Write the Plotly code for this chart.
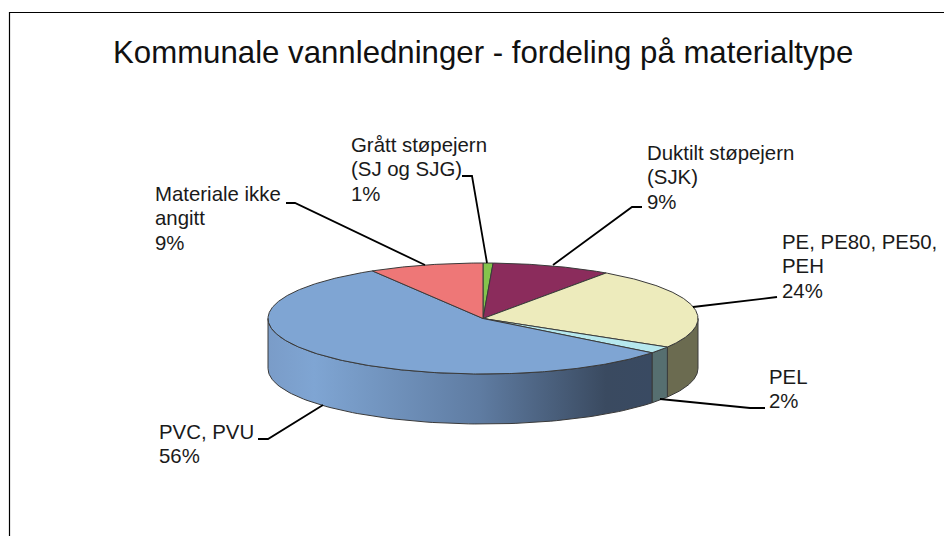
import numpy as np
import plotly.graph_objects as go

# --- data (clockwise from the top of the pie) ---
categories = ["Grått støpejern (SJ og SJG)", "Duktilt støpejern (SJK)", "PE, PE80, PE50, PEH",
              "PEL", "PVC, PVU", "Materiale ikke angitt"]
values = [0.75, 8.95, 23.9, 2.0, 55.8, 8.6]
percent_labels = ["1%", "9%", "24%", "2%", "56%", "9%"]
label_lines = [["Grått støpejern", "(SJ og SJG)"], ["Duktilt støpejern", "(SJK)"], ["PE, PE80, PE50,", "PEH"],
               ["PEL"], ["PVC, PVU"], ["Materiale ikke", "angitt"]]
title = "Kommunale vannledninger - fordeling på materialtype"

# --- style ---
top_colors = ["#84C44C", "#8B2C5C", "#EDEBBC", "#B6E8EE", "#7FA5D3", "#EE7777"]
side_colors = ["#5A7A38", "#5F1E40", "#6B6B50", "#566F70", None, "#A05050"]
pvc_side_scale = [[0, "#7A9CC8"], [0.12, "#7FA5D3"], [0.55, "#5F7CA2"], [0.88, "#3A4A60"], [1, "#394A62"]]
outline = "#3A3A3A"

# --- layout geometry ---
W, H = 944, 536
cx, cy, rx, ry, depth = 483, 318.5, 215, 55.5, 50
label_x = [349, 645, 780, 767, 157, 153]
label_y = [145, 153, 242, 377, 432, 194]
line_gap = 24.3
leaders = [
    ([462, 472, 487], [176, 176, 263]),
    ([642, 632, 553], [207, 207, 265]),
    ([777, 693], [297, 307]),
    ([765, 750, 660], [408, 408, 399]),
    ([258, 268, 323], [439, 439, 405]),
    ([286, 295, 425], [203, 203, 265]),
]


def ex(t):
    return cx + rx * np.sin(np.radians(t))


def ey(t, dz=0):
    return cy - ry * np.cos(np.radians(t)) + dz


edges = np.concatenate([[0], np.cumsum(values)]) / np.sum(values) * 360
fig = go.Figure()

# side walls (only the front half is visible)
for i in range(len(values)):
    a, b = max(edges[i], 90), min(edges[i + 1], 270)
    if a >= b:
        continue
    t = np.linspace(a, b, 90)
    xs = np.concatenate([ex(t), ex(t[::-1]), [ex(t[0])]])
    ys = np.concatenate([ey(t), ey(t[::-1], depth), [ey(t[0])]])
    kw = dict(fillcolor=side_colors[i])
    if side_colors[i] is None:
        kw = dict(fillgradient=dict(type="horizontal", colorscale=pvc_side_scale))
    fig.add_trace(go.Scatter(x=xs, y=ys, mode="lines", fill="toself",
                             line=dict(color=outline, width=1), hoverinfo="skip", **kw))

# top face
for i in range(len(values)):
    t = np.linspace(edges[i], edges[i + 1], max(int(edges[i + 1] - edges[i]) * 2, 6))
    xs = np.concatenate([[cx], ex(t), [cx]])
    ys = np.concatenate([[cy], ey(t), [cy]])
    fig.add_trace(go.Scatter(x=xs, y=ys, mode="lines", fill="toself", fillcolor=top_colors[i],
                             line=dict(color=outline, width=1), name=categories[i],
                             hoverinfo="name"))

# leader lines
for lx, ly in leaders:
    fig.add_trace(go.Scatter(x=lx, y=ly, mode="lines", line=dict(color="#000000", width=1.8), hoverinfo="skip"))

# frame
fig.add_trace(go.Scatter(x=[9.5, 9.5, W], y=[H, 12.5, 12.5], mode="lines",
                         line=dict(color="#000000", width=1.2), hoverinfo="skip"))

# labels
ann = []
for i, lines in enumerate(label_lines):
    for j, s in enumerate(lines + [percent_labels[i]]):
        ann.append(dict(x=label_x[i], y=label_y[i] + j * line_gap, text=s, showarrow=False,
                        xanchor="left", yanchor="middle",
                        font=dict(family="Liberation Sans", size=20.4, color="#1a1a1a")))
ann.append(dict(x=482.5, y=52, text=title, showarrow=False, xanchor="center", yanchor="middle",
                font=dict(family="Liberation Sans", size=31.2, color="#111111")))

fig.update_layout(
    width=W, height=H, margin=dict(l=0, r=0, t=0, b=0), showlegend=False,
    paper_bgcolor="white", plot_bgcolor="white", annotations=ann,
    xaxis=dict(range=[0, W], visible=False, fixedrange=True),
    yaxis=dict(range=[H, 0], visible=False, fixedrange=True),
)
fig.write_html("out.html", config=dict(displayModeBar=False),
               post_script="document.body.style.margin='0';document.documentElement.style.overflow='hidden';")
